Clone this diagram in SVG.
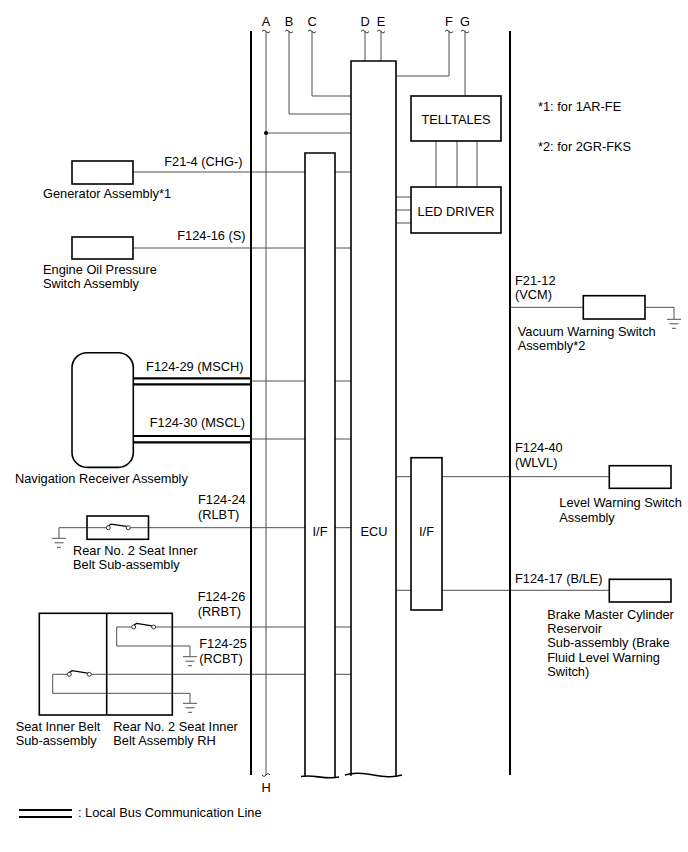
<svg xmlns="http://www.w3.org/2000/svg" xmlns:xlink="http://www.w3.org/1999/xlink" width="688" height="852" viewBox="0 0 688 852">
<style>
text{font-family:"Liberation Sans",Arial,sans-serif;font-size:12.8px;fill:#000}
.e{text-anchor:end}
.m{text-anchor:middle}
.w{fill:none;stroke:#505050;stroke-width:1}
.bar{fill:none;stroke:#000;stroke-width:2}
.box{fill:#fff;stroke:#000;stroke-width:1.6}
.nb{fill:none;stroke:#000;stroke-width:1.6}
.bus{fill:none;stroke:#000;stroke-width:2.2}
.sw{fill:#fff;stroke:#333;stroke-width:1}
.lv{fill:none;stroke:#000;stroke-width:1.2}
.t{fill:none;stroke:#333;stroke-width:1}
</style>
<defs>
<g id="gnd" class="w">
<line x1="-7" y1="0" x2="7" y2="0"/>
<line x1="-4.5" y1="4.5" x2="4.5" y2="4.5"/>
<line x1="-2" y1="9" x2="2" y2="9"/>
</g>
</defs>
<rect width="688" height="852" fill="#fff"/>

<g id="labels-top">
<text class="m" x="266" y="26">A</text>
<text class="m" x="289" y="26">B</text>
<text class="m" x="312" y="26">C</text>
<text class="m" x="365" y="26">D</text>
<text class="m" x="381" y="26">E</text>
<text class="m" x="449" y="26">F</text>
<text class="m" x="465" y="26">G</text>
<text class="m" x="266" y="792">H</text>
</g>

<g id="connectors">
<path class="w" d="M266,31 V775"/>
<path class="w" d="M289,31 V114 H351"/>
<path class="w" d="M312,31 V96 H351"/>
<path class="w" d="M266,133 H351"/>
<circle cx="266" cy="133" r="2" fill="#000"/>
<path class="w" d="M365,31 V61 M381,31 V61"/>
<path class="w" d="M449,31 V76 H396"/>
<path class="w" d="M465,31 V96"/>
<path class="w" d="M436,141 V187 M457,141 V187 M477,141 V187"/>
<path class="w" d="M396,197 H411 M396,210 H411 M396,223 H411"/>
<path class="w" d="M133,172 H351"/>
<path class="w" d="M133,248 H351"/>
<path class="bus" d="M133,378.3 H251 M133,384.3 H251 M133,436 H251 M133,442.3 H251"/>
<path class="w" d="M251,381 H351 M251,439 H351"/>
<path class="w" d="M59,538 V527.7 H106.3 M130.3,527.7 H351"/>
<path class="w" d="M155.7,627 H351 M131.7,627 H116.7 V646 H190 V656.7"/>
<path class="w" d="M91.3,674.3 H351 M67.3,674.3 H52.7 V693.3 H190 V703.3"/>
<path class="w" d="M510,307.3 H583 M645,307.3 H674 V319.3"/>
<path class="w" d="M396,476.7 H609"/>
<path class="w" d="M396,590.3 H609"/>
<g class="t">
<path d="M262,31.5 c1.5,-1.8 2.5,-1.8 4,0 s2.5,1.8 4,0"/>
<path d="M285,31.5 c1.5,-1.8 2.5,-1.8 4,0 s2.5,1.8 4,0"/>
<path d="M308,31.5 c1.5,-1.8 2.5,-1.8 4,0 s2.5,1.8 4,0"/>
<path d="M361,31.5 c1.5,-1.8 2.5,-1.8 4,0 s2.5,1.8 4,0"/>
<path d="M377,31.5 c1.5,-1.8 2.5,-1.8 4,0 s2.5,1.8 4,0"/>
<path d="M445,31.5 c1.5,-1.8 2.5,-1.8 4,0 s2.5,1.8 4,0"/>
<path d="M461,31.5 c1.5,-1.8 2.5,-1.8 4,0 s2.5,1.8 4,0"/>
<path d="M262,775 c1.5,1.8 2.5,1.8 4,0 s2.5,-1.8 4,0"/>
</g>
</g>

<g id="bus-left"><path class="bar" d="M251,31 V775"/></g>
<g id="bus-right"><path class="bar" d="M510,31 V775"/></g>

<g id="ecu">
<path class="box" d="M351,776 V61 H396 V776"/>
<path fill="#fff" stroke="none" d="M351,776 C366,769 382,781 396,776 V776 Z"/>
<path class="nb" d="M345,775 C364,769 383,781 402,775"/>
<text class="m" x="374" y="536">ECU</text>
</g>

<g id="if-left">
<path class="box" d="M305,777 V153 H335 V777"/>
<path class="nb" d="M301,776.5 C313,774 325,780 339,777"/>
<text class="m" x="320" y="536">I/F</text>
</g>

<g id="if-right">
<rect class="box" x="411" y="457.7" width="31" height="152.3"/>
<text class="m" x="426.5" y="536">I/F</text>
</g>

<g id="telltales">
<rect class="box" x="411" y="96" width="90" height="45"/>
<text class="m" x="456" y="123.5">TELLTALES</text>
</g>

<g id="led-driver">
<rect class="box" x="411" y="187" width="90" height="46"/>
<text class="m" x="456" y="216">LED DRIVER</text>
</g>

<g id="notes">
<text x="538" y="110.7">*1: for 1AR-FE</text>
<text x="538" y="150.7">*2: for 2GR-FKS</text>
</g>

<g id="generator">
<rect class="box" x="72" y="161" width="61" height="23"/>
<text x="43" y="198">Generator Assembly*1</text>
<text class="e" x="242.5" y="166">F21-4 (CHG-)</text>
</g>

<g id="oil-switch">
<rect class="box" x="72" y="237" width="61" height="22"/>
<text x="43" y="274">Engine Oil Pressure</text>
<text x="43" y="288">Switch Assembly</text>
<text class="e" x="245.5" y="239.5">F124-16 (S)</text>
</g>

<g id="navigation">
<rect class="box" x="72" y="352.7" width="61.3" height="114.7" rx="15"/>
<text x="15" y="483">Navigation Receiver Assembly</text>
<text class="e" x="243.5" y="370.7">F124-29 (MSCH)</text>
<text class="e" x="245" y="427">F124-30 (MSCL)</text>
</g>

<g id="rear-belt-sub">
<rect class="nb" x="87" y="516" width="61.5" height="23.3"/>
<circle class="sw" cx="108.3" cy="527.7" r="2"/>
<circle class="sw" cx="128.3" cy="527.7" r="2"/>
<path class="lv" d="M108.6,525.7 L111,524.2 L126.5,526.4"/>
<use xlink:href="#gnd" href="#gnd" x="59" y="538.3"/>
<text x="198" y="504">F124-24</text>
<text x="198" y="519">(RLBT)</text>
<text x="73" y="555">Rear No. 2 Seat Inner</text>
<text x="73" y="569">Belt Sub-assembly</text>
</g>

<g id="seat-belt">
<rect class="nb" x="39.3" y="613.3" width="133" height="101.7"/>
<line class="nb" x1="106.7" y1="613.3" x2="106.7" y2="715"/>
<circle class="sw" cx="133.7" cy="627" r="2"/>
<circle class="sw" cx="153.7" cy="627" r="2"/>
<path class="lv" d="M134,625 L136.5,623.4 L151.9,625.8"/>
<circle class="sw" cx="69.3" cy="674.3" r="2"/>
<circle class="sw" cx="89.3" cy="674.3" r="2"/>
<path class="lv" d="M69.6,672.3 L72.1,670.7 L87.5,673.1"/>
<use xlink:href="#gnd" href="#gnd" x="190" y="656.7"/>
<use xlink:href="#gnd" href="#gnd" x="190" y="703.3"/>
<text x="197.7" y="600.7">F124-26</text>
<text x="197.7" y="616">(RRBT)</text>
<text x="199.3" y="648.3">F124-25</text>
<text x="199.3" y="663.3">(RCBT)</text>
<text x="15.7" y="730.7">Seat Inner Belt</text>
<text x="15.7" y="745.3">Sub-assembly</text>
<text x="113.3" y="730.7">Rear No. 2 Seat Inner</text>
<text x="113.3" y="745.3">Belt Assembly RH</text>
</g>

<g id="vacuum-switch">
<rect class="box" x="583.3" y="295.7" width="61.7" height="23.3"/>
<use xlink:href="#gnd" href="#gnd" x="674" y="319.3"/>
<text x="515" y="285">F21-12</text>
<text x="515" y="299.3">(VCM)</text>
<text x="517.7" y="335.7">Vacuum Warning Switch</text>
<text x="517.7" y="350">Assembly*2</text>
</g>

<g id="level-switch">
<rect class="box" x="609.3" y="465.7" width="61.7" height="22.6"/>
<text x="515" y="451.7">F124-40</text>
<text x="515" y="466.7">(WLVL)</text>
<text x="559.3" y="507">Level Warning Switch</text>
<text x="559.3" y="521.7">Assembly</text>
</g>

<g id="brake-switch">
<rect class="box" x="609.3" y="579.3" width="61.7" height="22.7"/>
<text x="515" y="582.7">F124-17 (B/LE)</text>
<text x="547.3" y="619.3">Brake Master Cylinder</text>
<text x="547.3" y="633">Reservoir</text>
<text x="547.3" y="647.3">Sub-assembly (Brake</text>
<text x="547.3" y="661.5">Fluid Level Warning</text>
<text x="547.3" y="676">Switch)</text>
</g>

<g id="legend">
<path class="bus" d="M19,810 H72 M19,817 H72"/>
<text x="78" y="817.3">: Local Bus Communication Line</text>
</g>
</svg>
